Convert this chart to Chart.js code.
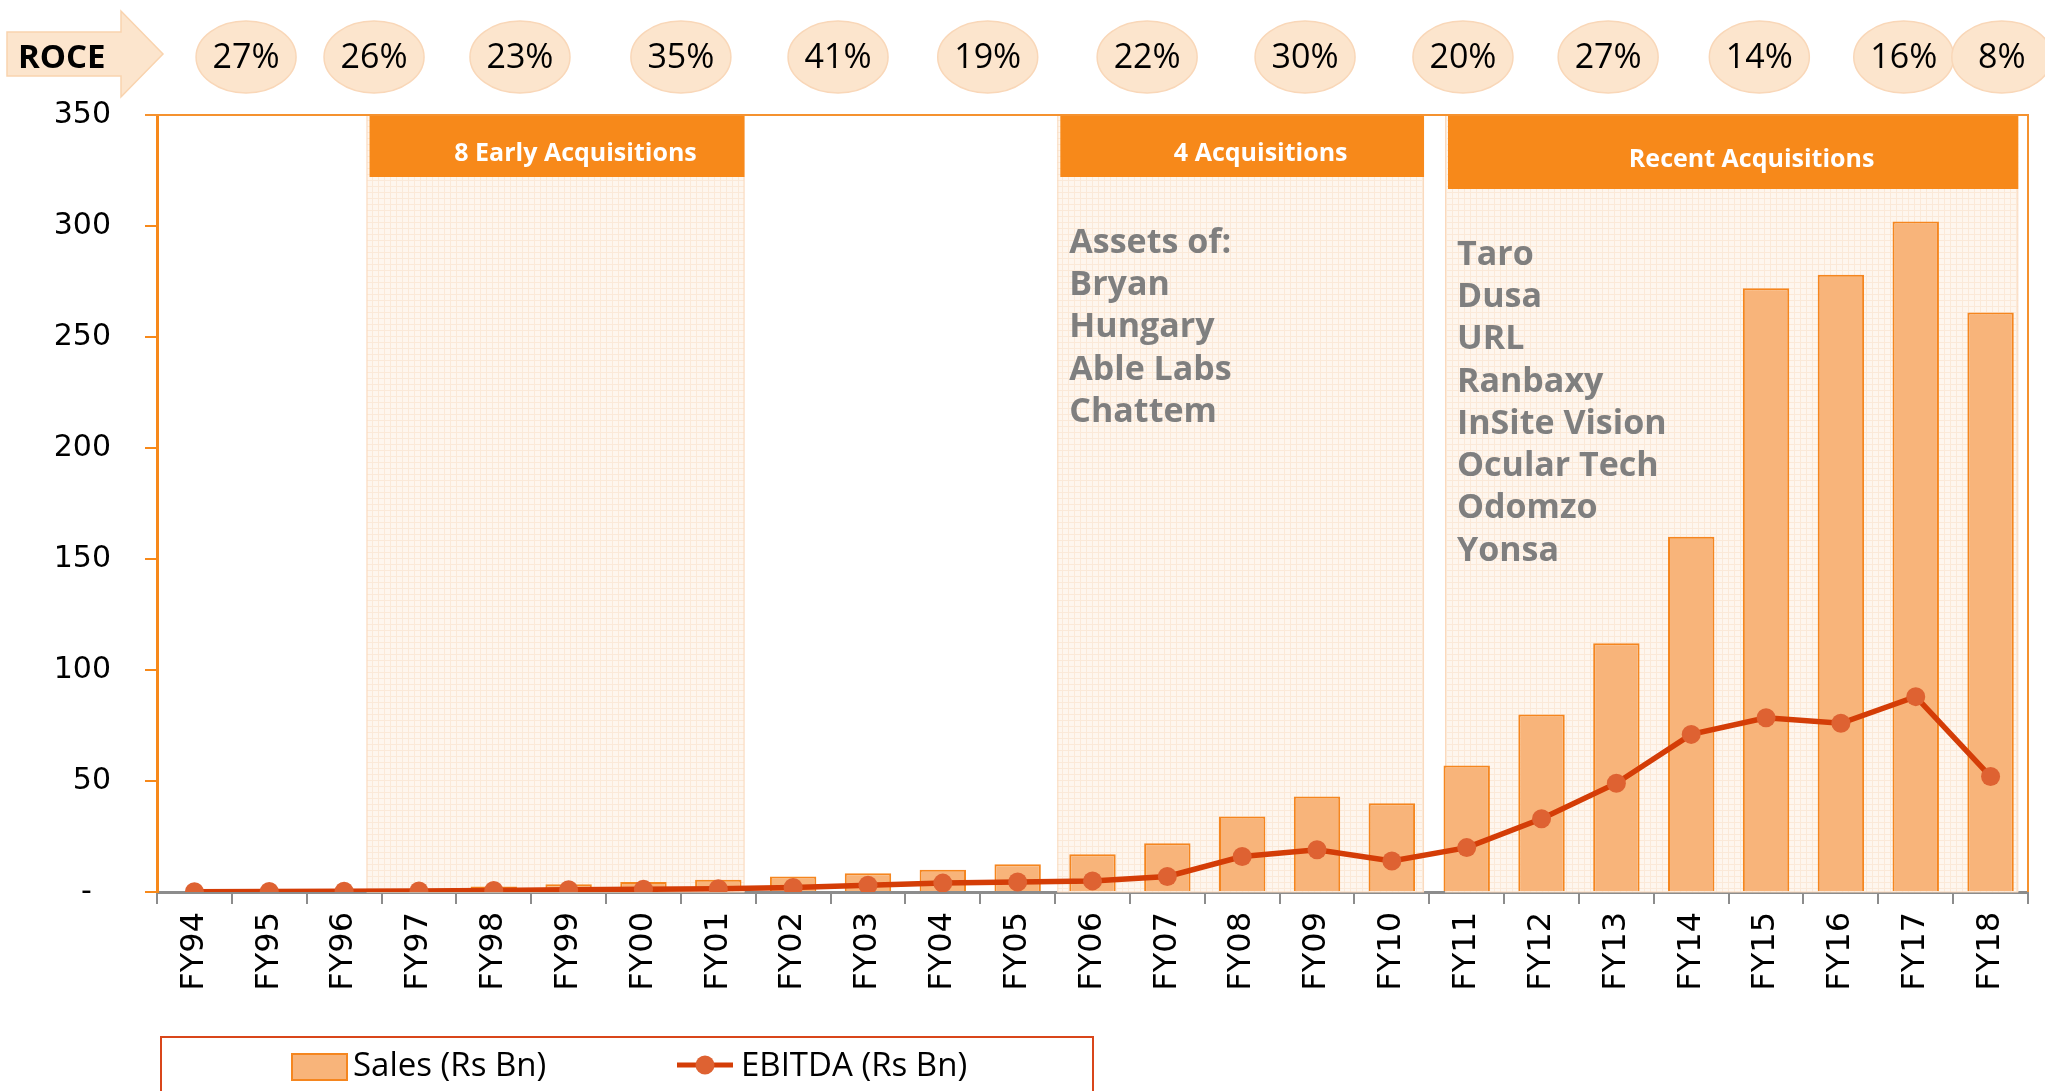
<!DOCTYPE html>
<html lang="en">
<head>
<meta charset="UTF-8">
<title>Sales and EBITDA</title>
<script src="https://cdn.jsdelivr.net/npm/chart.js"></script>
<style>
  body { margin: 0; background: #fff; }
  #wrap { width: 2045px; height: 1091px; position: relative; }
</style>
</head>
<body>
<div id="wrap"><canvas id="salesChart"></canvas></div>
<script>
const years = ['FY94','FY95','FY96','FY97','FY98','FY99','FY00','FY01','FY02','FY03','FY04','FY05',
               'FY06','FY07','FY08','FY09','FY10','FY11','FY12','FY13','FY14','FY15','FY16','FY17','FY18'];
const sales  = [0.4, 0.5, 0.7, 1, 2.5, 3.5, 4.5, 5.5, 7, 8.5, 10, 12.5,
                17, 22, 34, 43, 40, 57, 80, 112, 160, 272, 278, 302, 261];
const ebitda = [0.1, 0.2, 0.3, 0.5, 0.7, 1, 1.2, 1.5, 2, 3, 4, 4.5,
                5, 7, 16, 19, 14, 20, 33, 49, 71, 78.5, 76, 88, 52];

// ROCE bubbles along the top, placed by category position
const roce   = ['27%','26%','23%','35%','41%','19%','22%','30%','20%','27%','14%','16%','8%'];
const roceAt = [0.69, 2.40, 4.35, 6.50, 8.60, 10.60, 12.73, 14.84, 16.95, 18.89, 20.91, 22.84, 24.15];

// acquisition periods (in category units)
const regionNames = ['8 Early Acquisitions', '4 Acquisitions', 'Recent Acquisitions'];
const regionFrom  = [2.30, 11.53, 16.71];
const regionTo    = [7.35, 16.43, 24.37];
const regionNotes = [
  [],
  ['Assets of:', 'Bryan', 'Hungary', 'Able Labs', 'Chattem'],
  ['Taro', 'Dusa', 'URL', 'Ranbaxy', 'InSite Vision', 'Ocular Tech', 'Odomzo', 'Yonsa']
];

const ORANGE = '#f7891a';
const BAR_FILL = '#f8b47a';
const BAR_LINE = '#f5861f';
const LINE_RED = '#d43d07';
const DOT = '#de6232';

// faint grid pattern for shaded periods
function makePattern(ctx) {
  const c = document.createElement('canvas');
  c.width = 6; c.height = 6;
  const p = c.getContext('2d');
  p.fillStyle = '#fef6ee';
  p.fillRect(0, 0, 6, 6);
  p.fillStyle = '#fbe9d8';
  p.fillRect(0, 0, 6, 1);
  p.fillRect(0, 0, 1, 6);
  return ctx.createPattern(c, 'repeat');
}

const periods = {
  id: 'periods',
  beforeDatasetsDraw(chart) {
    const {ctx, chartArea, scales: {x}} = chart;
    const pat = makePattern(ctx);
    ctx.save();
    regionNames.forEach((name, i) => {
      const l = x.getPixelForValue(regionFrom[i]);
      const r = x.getPixelForValue(regionTo[i]);
      ctx.fillStyle = pat;
      ctx.fillRect(l, chartArea.top, r - l, chartArea.bottom - chartArea.top);
      ctx.strokeStyle = '#fbd9bc';
      ctx.lineWidth = 1;
      ctx.strokeRect(l + 0.5, chartArea.top, r - l - 1, chartArea.bottom - chartArea.top);
    });
    ctx.restore();
  },
  afterDatasetsDraw(chart) {
    const {ctx, chartArea, scales: {x}} = chart;
    const headH = [62, 62, 74];
    ctx.save();
    regionNames.forEach((name, i) => {
      const l = x.getPixelForValue(regionFrom[i]);
      const r = x.getPixelForValue(regionTo[i]);
      ctx.fillStyle = ORANGE;
      ctx.fillRect(l + 3, chartArea.top, r - l - 3, headH[i]);
      ctx.fillStyle = '#fff';
      ctx.font = 'bold 25px "Open Sans"';
      ctx.textAlign = 'center';
      ctx.textBaseline = 'middle';
      ctx.fillText(name, (l + r) / 2 + 20, chartArea.top + headH[i] / 2 + 8);

      ctx.fillStyle = '#7f7f7f';
      ctx.font = 'bold 34px "Open Sans"';
      ctx.textAlign = 'left';
      const top = chartArea.top + headH[i] + 66;
      regionNotes[i].forEach((t, k) => {
        ctx.fillText(t, l + 12, top + k * 42.3);
      });
    });
    ctx.restore();
  },
  afterDraw(chart) {
    const {ctx, chartArea, scales: {x}} = chart;
    ctx.save();
    // orange frame top and right
    ctx.strokeStyle = '#f5922f';
    ctx.lineWidth = 2;
    ctx.beginPath();
    ctx.moveTo(chartArea.left - 12, chartArea.top);
    ctx.lineTo(chartArea.right, chartArea.top);
    ctx.lineTo(chartArea.right, chartArea.bottom);
    ctx.stroke();

    // ROCE arrow
    ctx.fillStyle = '#fce5cd';
    ctx.strokeStyle = '#f9d3ae';
    ctx.lineWidth = 1.5;
    ctx.beginPath();
    ctx.moveTo(7, 32); ctx.lineTo(121, 32); ctx.lineTo(121, 11); ctx.lineTo(163, 54);
    ctx.lineTo(121, 97); ctx.lineTo(121, 76); ctx.lineTo(7, 76); ctx.closePath();
    ctx.fill(); ctx.stroke();
    ctx.fillStyle = '#000';
    ctx.font = 'bold 33px "Open Sans"';
    ctx.textAlign = 'left';
    ctx.textBaseline = 'middle';
    ctx.fillText('ROCE', 18, 59);

    // ROCE bubbles
    roce.forEach((v, i) => {
      const cx = x.getPixelForValue(roceAt[i]);
      ctx.fillStyle = '#fce5cd';
      ctx.strokeStyle = '#f9d7b8';
      ctx.beginPath();
      ctx.ellipse(cx, 57, 50, 36, 0, 0, Math.PI * 2);
      ctx.fill(); ctx.stroke();
      ctx.fillStyle = '#000';
      ctx.font = '34px "Open Sans"';
      ctx.textAlign = 'center';
      ctx.fillText(v, cx, 58);
    });

    // legend box
    ctx.strokeStyle = '#d9461a';
    ctx.lineWidth = 2;
    ctx.strokeRect(161, 1037, 932, 80);
    ctx.fillStyle = BAR_FILL;
    ctx.strokeStyle = BAR_LINE;
    ctx.fillRect(292, 1054, 55, 26);
    ctx.strokeRect(292, 1054, 55, 26);
    ctx.fillStyle = '#000';
    ctx.font = '33px "Open Sans"';
    ctx.textAlign = 'left';
    ctx.fillText('Sales (Rs Bn)', 353, 1067);
    ctx.strokeStyle = LINE_RED;
    ctx.lineWidth = 5;
    ctx.beginPath(); ctx.moveTo(677, 1065); ctx.lineTo(733, 1065); ctx.stroke();
    ctx.fillStyle = DOT;
    ctx.beginPath(); ctx.arc(705, 1065, 9.5, 0, Math.PI * 2); ctx.fill();
    ctx.fillStyle = '#000';
    ctx.fillText('EBITDA (Rs Bn)', 741, 1067);
    ctx.restore();
  }
};

new Chart(document.getElementById('salesChart'), {
  data: {
    labels: years,
    datasets: [
      {
        type: 'line',
        label: 'EBITDA (Rs Bn)',
        data: ebitda,
        borderColor: LINE_RED,
        borderWidth: 5.5,
        pointRadius: 9.5,
        pointBackgroundColor: DOT,
        pointBorderColor: DOT,
        pointBorderWidth: 0,
        tension: 0,
        order: 0
      },
      {
        type: 'bar',
        label: 'Sales (Rs Bn)',
        data: sales,
        backgroundColor: BAR_FILL,
        borderColor: BAR_LINE,
        borderWidth: 2,
        barPercentage: 0.62,
        categoryPercentage: 1,
        order: 1
      }
    ]
  },
  options: {
    responsive: true,
    maintainAspectRatio: false,
    animation: false,
    layout: { padding: { top: 115, right: 17, left: 0, bottom: 0 } },
    plugins: { legend: { display: false }, tooltip: { enabled: false } },
    scales: {
      x: {
        offset: true,
        afterFit(s) { s.height = 199; },
        grid: { offset: true, drawOnChartArea: false, tickLength: 12, color: '#8c8c8c', lineWidth: 2 },
        border: { color: '#8c8c8c', width: 3 },
        ticks: { color: '#000', font: { family: 'DejaVu Sans', size: 32 }, minRotation: 90, maxRotation: 90, padding: 8 }
      },
      y: {
        min: 0, max: 350,
        afterFit(s) { s.width = 157; },
        grid: { drawOnChartArea: false, tickLength: 12, color: '#f7891a', lineWidth: 2 },
        border: { color: '#f7891a', width: 3 },
        ticks: {
          stepSize: 50, color: '#000', padding: 34,
          font: { family: 'DejaVu Sans', size: 30 },
          callback: v => v === 0 ? '-  ' : v
        }
      }
    }
  },
  plugins: [periods]
});
</script>
</body>
</html>
